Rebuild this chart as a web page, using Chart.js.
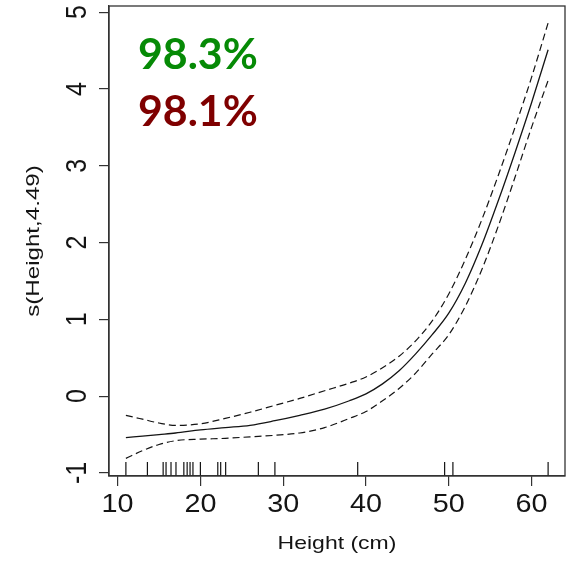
<!DOCTYPE html>
<html>
<head>
<meta charset="utf-8">
<script src="https://cdn.jsdelivr.net/npm/chart.js@4"></script>
<style>
html,body{margin:0;padding:0;background:#fff;}
#wrap{width:573px;height:561px;}
</style>
</head>
<body>
<div id="wrap"><canvas id="c" width="573" height="561"></canvas></div>
<script>
// ---- data ----
const xGrid    = [11,13,15,17,20,23,26,29,32,35,38,40,42,44,46,48,50,52,54,56,58,60,62];
const fitMean  = [-0.54,-0.52,-0.50,-0.48,-0.44,-0.41,-0.38,-0.32,-0.25,-0.17,-0.06,0.03,0.16,0.33,0.55,0.80,1.08,1.47,1.97,2.55,3.17,3.82,4.51];
const fitUpper = [-0.25,-0.30,-0.35,-0.38,-0.36,-0.29,-0.21,-0.12,-0.03,0.07,0.17,0.25,0.37,0.52,0.72,0.98,1.33,1.78,2.30,2.88,3.50,4.15,4.86];
const fitLower = [-0.81,-0.71,-0.63,-0.58,-0.56,-0.55,-0.53,-0.51,-0.48,-0.41,-0.29,-0.20,-0.06,0.10,0.30,0.55,0.80,1.17,1.65,2.22,2.85,3.50,4.11];
const rugX     = [11,13.6,15.5,15.85,16.45,17.05,18,18.4,18.75,19.1,20,22.1,22.45,23.05,27,29,39,49.5,50.5,62];
const xTicks   = [10,20,30,40,50,60];
const yTicks   = [-1,0,1,2,3,4,5];
const xTitle   = 'Height (cm)';
const yTitle   = 's(Height,4.49)';
const statLabels = ['98.3%','98.1%'];

const X_MIN = 8.96, X_MAX = 64.04, Y_MIN = -1.04, Y_MAX = 5.08;
const RUG_FRAC = 0.03;

const pts = ys => xGrid.map((x,i)=>({x:x, y:ys[i]}));
const rugTop = Y_MIN + RUG_FRAC*(Y_MAX-Y_MIN);
const rugData = [];
rugX.forEach(v=>{ rugData.push({x:v,y:Y_MIN},{x:v,y:rugTop},{x:v,y:null}); });

const AXIS_FONT = '"Liberation Sans", Arial, sans-serif';
const INK = '#141414';

const textPlugin = {
  id:'texts',
  afterDatasetsDraw(chart){
    const {ctx, chartArea:a} = chart;
    ctx.save();
    ctx.strokeStyle = '#333';
    ctx.lineWidth = 1.3;
    ctx.strokeRect(a.left, a.top, a.right-a.left, a.bottom-a.top);
    ctx.restore();
  },
  afterDraw(chart){
    const {ctx, chartArea:a} = chart;
    const xs = chart.scales.x, ys = chart.scales.y;
    ctx.save();
    ctx.fillStyle = INK;
    ctx.textBaseline = 'alphabetic';
    ctx.textAlign = 'center';
    // x tick labels
    ctx.font = '25px ' + AXIS_FONT;
    xTicks.forEach(v=>{
      const px = xs.getPixelForValue(v);
      ctx.save();
      ctx.translate(px, 511.5);
      ctx.scale(1.15, 1);
      ctx.fillText(String(v), 0, 0);
      ctx.restore();
    });
    // y tick labels (rotated, R las=0)
    yTicks.forEach(v=>{
      const py = ys.getPixelForValue(v);
      ctx.save();
      ctx.translate(75.5, py);
      ctx.scale(1.16, 1);
      ctx.rotate(-Math.PI/2);
      ctx.fillText(String(v), 0, 0.358*25);
      ctx.restore();
    });
    // axis titles
    ctx.font = '19px ' + AXIS_FONT;
    ctx.save();
    ctx.translate((a.left+a.right)/2, 549.3);
    ctx.scale(1.21, 1);
    ctx.fillText(xTitle, 0, 0);
    ctx.restore();
    ctx.save();
    ctx.translate(38.5, (a.top+a.bottom)/2);
    ctx.rotate(-Math.PI/2);
    ctx.scale(1.27, 1);
    ctx.fillText(yTitle, 0, 0);
    ctx.restore();
    // statistics
    ctx.textAlign = 'left';
    ctx.font = 'bold 42px Lato, "Open Sans", sans-serif';
    ctx.fillStyle = '#068a06';
    ctx.save(); ctx.translate(138, 69.3); ctx.scale(1.02,1); ctx.fillText(statLabels[0], 0, 0); ctx.restore();
    ctx.fillStyle = '#7f0000';
    ctx.save(); ctx.translate(138, 126); ctx.scale(1.02,1); ctx.fillText(statLabels[1], 0, 0); ctx.restore();
    ctx.restore();
  }
};

new Chart(document.getElementById('c'), {
  type:'line',
  data:{
    datasets:[
      {label:'fit', data:pts(fitMean), borderColor:INK, borderWidth:1.3, pointRadius:0, cubicInterpolationMode:'monotone', fill:false},
      {label:'upper', data:pts(fitUpper), borderColor:INK, borderWidth:1.2, borderDash:[7,4], pointRadius:0, cubicInterpolationMode:'monotone', fill:false},
      {label:'lower', data:pts(fitLower), borderColor:INK, borderWidth:1.2, borderDash:[7,4], pointRadius:0, cubicInterpolationMode:'monotone', fill:false},
      {label:'rug', data:rugData, borderColor:INK, borderWidth:1.2, pointRadius:0, spanGaps:false, tension:0, fill:false}
    ]
  },
  options:{
    responsive:false,
    animation:false,
    events:[],
    layout:{padding:{left:0,right:8,top:6,bottom:0}},
    plugins:{legend:{display:false}, tooltip:{enabled:false}},
    scales:{
      x:{
        type:'linear', min:X_MIN, max:X_MAX,
        afterBuildTicks(s){ s.ticks = xTicks.map(v=>({value:v})); },
        afterFit(s){ s.height = 85; },
        grid:{display:true, drawOnChartArea:false, drawTicks:true, tickLength:10, color:'#333', lineWidth:1.2},
        border:{display:true, color:'#333', width:1.3},
        ticks:{display:false},
        title:{display:false}
      },
      y:{
        type:'linear', min:Y_MIN, max:Y_MAX,
        afterBuildTicks(s){ s.ticks = yTicks.map(v=>({value:v})); },
        afterFit(s){ s.width = 109; },
        grid:{display:true, drawOnChartArea:false, drawTicks:true, tickLength:10, color:'#333', lineWidth:1.2},
        border:{display:true, color:'#333', width:1.3},
        ticks:{display:false},
        title:{display:false}
      }
    }
  },
  plugins:[textPlugin]
});
</script>
</body>
</html>
